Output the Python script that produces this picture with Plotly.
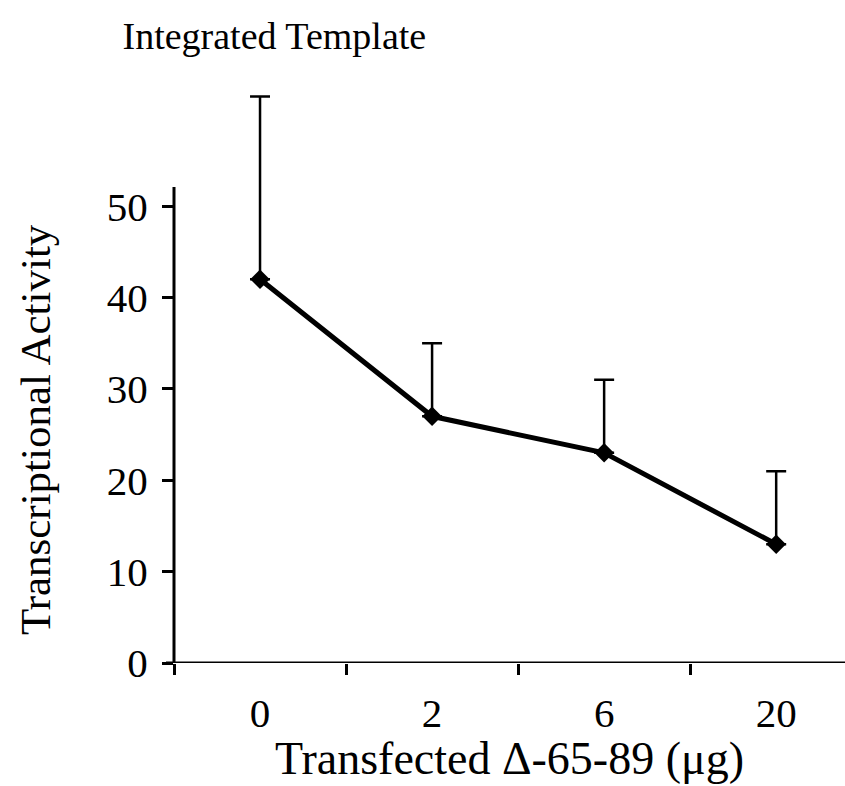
import plotly.graph_objects as go

categories = ["0", "2", "6", "20"]
activity = [42, 27, 23, 13]
err_up = [20, 8, 8, 8]
y_ticks = [0, 10, 20, 30, 40, 50]
y_axis_top = 52.1

FONT = "Liberation Serif"

fig = go.Figure()
fig.add_trace(go.Scatter(
    x=categories, y=activity, mode="lines+markers",
    line=dict(color="black", width=5),
    marker=dict(symbol="diamond", size=15, color="black"),
    error_y=dict(type="data", array=err_up, arrayminus=[0]*len(err_up),
                 symmetric=False, color="black", thickness=2.5, width=10),
    showlegend=False,
))

# axis lines drawn as shapes so the plot area can extend above the y-axis line
fig.add_shape(type="line", xref="paper", yref="y", x0=0, x1=0, y0=-1.3, y1=y_axis_top,
              line=dict(color="black", width=3))
fig.add_shape(type="line", xref="paper", yref="y", x0=-0.012, x1=1, y0=0, y1=0,
              line=dict(color="black", width=3))

# axis titles
fig.add_annotation(text="Transcriptional Activity", xref="paper", yref="y",
                   x=-0.207, y=25.5, textangle=-90, showarrow=False,
                   xanchor="center", yanchor="middle",
                   font=dict(family=FONT, size=43, color="black"))
fig.add_annotation(text="Transfected Δ-65-89 (μg)", xref="paper", yref="paper",
                   x=0.5, y=-0.158, showarrow=False, xanchor="center", yanchor="middle",
                   font=dict(family=FONT, size=46, color="black"))

fig.update_layout(
    width=845, height=786,
    margin=dict(l=174, r=0, t=60, b=123),
    paper_bgcolor="white", plot_bgcolor="white",
    font=dict(family=FONT, color="black", size=40),
    title=dict(text="Integrated Template", x=0.145, xanchor="left", y=0.955, yanchor="middle",
               font=dict(family=FONT, size=38, color="black")),
    xaxis=dict(
        type="category", range=[-0.5, 3.4],
        showline=False,
        ticks="outside", tickson="boundaries", ticklen=11, tickwidth=3, tickcolor="black",
        showgrid=False, zeroline=False,
        tickfont=dict(family=FONT, size=41),
        ticklabelstandoff=22,
    ),
    yaxis=dict(
        range=[0, 66], tickvals=y_ticks,
        showline=False,
        ticks="outside", ticklen=11, tickwidth=3, tickcolor="black",
        showgrid=False, zeroline=False,
        tickfont=dict(family=FONT, size=41),
        ticklabelstandoff=6,
    ),
)

fig.write_html("out.html")
